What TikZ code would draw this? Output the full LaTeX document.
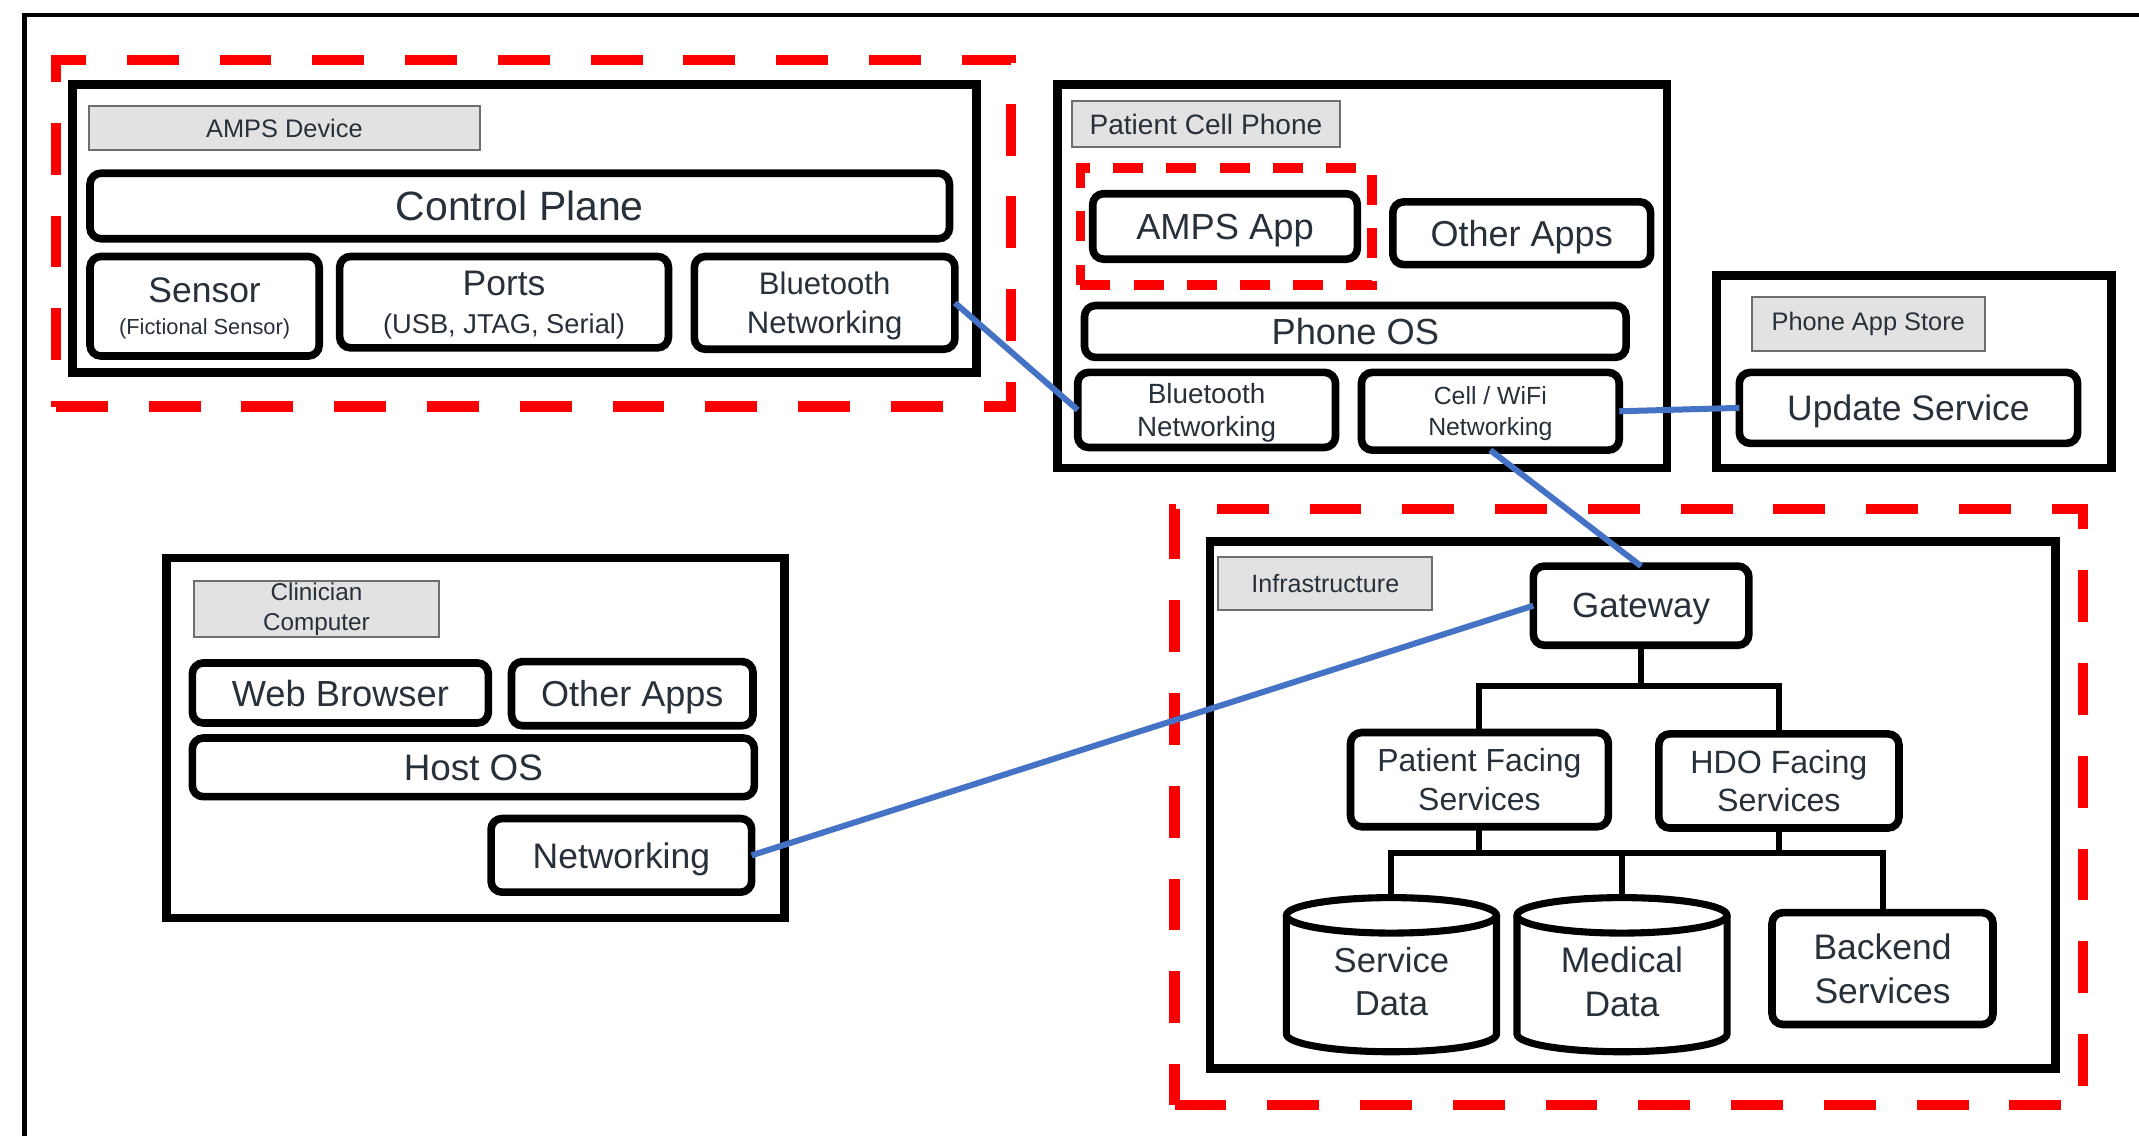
\documentclass[tikz,border=0pt]{standalone}
\usepackage{fontspec}
\setmainfont{Liberation Sans}
\definecolor{dashred}{RGB}{250,0,0}
\definecolor{linkblue}{RGB}{68,114,196}
\definecolor{lblfill}{RGB}{226,226,226}
\definecolor{lbldraw}{RGB}{110,110,110}
\definecolor{txtc}{RGB}{40,48,58}
\newcommand\fsz[2]{\fontsize{#1pt}{#2pt}\selectfont}
\newcommand\bx[7]{\node[#6,minimum width={(#4-#2)*0.5pt},minimum height={(#5-#3)*0.5pt}] (#1) at ({(#2+#4)/2},{(#3+#5)/2}) {#7};}
\begin{document}
\begin{tikzpicture}[x=0.5pt,y=-0.5pt,
  container/.style={draw=black,line width=3.2pt,inner sep=0pt,outer sep=0pt},
  grp/.style={draw=dashred,line width=3.8pt,dash pattern=on 19pt off 15pt,inner sep=0pt,outer sep=0pt},
  grpsmall/.style={draw=dashred,line width=3.6pt,dash pattern=on 11pt off 8.5pt,inner sep=0pt,outer sep=0pt},
  lbl/.style={draw=lbldraw,fill=lblfill,line width=0.7pt,inner sep=0pt,outer sep=0pt,text=txtc,align=center},
  comp/.style={draw=black,fill=white,line width=2.8pt,rounded corners=4pt,inner sep=0pt,outer sep=0pt,text=txtc,align=center},
  oneline/.style={text depth=0pt},
  cylnode/.style={inner sep=0pt,outer sep=0pt,text=txtc,align=center},
  cyl/.style={draw=black,line width=2.6pt},
  link/.style={draw=linkblue,line width=2.2pt},
  tree/.style={draw=black,line width=2.2pt},
  frame/.style={draw=black,line width=1.8pt}]
\useasboundingbox (0,0) rectangle (1568,833);
\draw[frame] (18,833) -- (18,11) -- (1568,11);

% AMPS device
\bx{ampsgrp}{41}{44}{741}{298}{grp}{}
\bx{ampsdev}{53}{62}{716}{273}{container}{}
\bx{ampslbl}{65}{78}{352}{110}{lbl,font=\fsz{9.3}{11}}{AMPS Device}
\bx{cp}{66}{127}{696}{175}{comp,oneline,font=\fsz{15}{18}}{Control Plane}
\bx{sensor}{66}{188}{234}{261}{comp,oneline,font=\fsz{13}{13}}{Sensor\\[-1.5pt]{\fsz{8}{10}(Fictional Sensor)}}
\bx{ports}{249}{188}{490}{255}{comp,oneline,font=\fsz{13}{14}}{Ports\\{\fsz{10}{12}(USB, JTAG, Serial)}}
\bx{abt}{509}{188}{700}{256}{comp,oneline,font=\fsz{11.4}{14.5}}{Bluetooth\\Networking}

% Patient cell phone
\bx{phone}{775}{62}{1222}{343}{container}{}
\bx{phonelbl}{786}{74}{982}{108}{lbl,font=\fsz{10.3}{12}}{Patient Cell Phone}
\bx{appgrp}{792}{123}{1006}{209}{grpsmall}{}
\bx{ampsapp}{801}{142}{995}{190}{comp,oneline,font=\fsz{13.3}{15}}{AMPS App}
\bx{otherapps}{1021}{148}{1210}{194}{comp,oneline,font=\fsz{13.2}{15}}{Other Apps}
\bx{phoneos}{795}{224}{1192}{262}{comp,oneline,font=\fsz{13.3}{15}}{Phone OS}
\bx{pbt}{790}{273}{979}{328}{comp,oneline,font=\fsz{10.2}{12}}{Bluetooth\\Networking}
\bx{cw}{998}{273}{1187}{330}{comp,oneline,font=\fsz{9.1}{11.5}}{Cell / WiFi\\Networking}

% Phone app store
\bx{store}{1258}{202}{1548}{343}{container}{}
\bx{storelbl}{1284}{218}{1455}{257}{lbl,font=\fsz{9.3}{11}}{Phone App Store}
\bx{upd}{1275}{273}{1523}{325}{comp,oneline,font=\fsz{13}{15}}{Update Service}

% Clinician computer
\bx{clin}{122}{409}{575}{673}{container}{}
\bx{clinlbl}{142}{426}{322}{467}{lbl,font=\fsz{8.9}{11}}{Clinician\\Computer}
\bx{web}{141}{486}{358}{530}{comp,oneline,font=\fsz{13.3}{15}}{Web Browser}
\bx{cother}{375}{485}{552}{532}{comp,oneline,font=\fsz{13.2}{15}}{Other Apps}
\bx{host}{141}{541}{553}{584}{comp,oneline,font=\fsz{13.5}{15}}{Host OS}
\bx{net}{360}{600}{551}{654}{comp,oneline,font=\fsz{13}{15}}{Networking}

% Infrastructure
\bx{infragrp}{861}{373}{1527}{810}{grp}{}
\bx{infra}{887}{397}{1507}{783}{container}{}
\bx{infralbl}{893}{408}{1050}{447}{lbl,font=\fsz{9.2}{11}}{Infrastructure}
\bx{gw}{1124}{415}{1282}{473}{comp,oneline,font=\fsz{12.8}{15}}{Gateway}
\bx{pfs}{990}{537}{1179}{606}{comp,font=\fsz{11.7}{14}}{Patient Facing\\Services}
\bx{hdo}{1216}{538}{1392}{607}{comp,font=\fsz{11.8}{14}}{HDO Facing\\Services}
\bx{backend}{1299}{669}{1461}{751}{comp,font=\fsz{13}{16}}{Backend\\Services}

% cylinders
\draw[cyl] (943,671) -- (943,758) arc[start angle=180,end angle=360,x radius=38.5pt,y radius=6.5pt] -- (1097,671);
\draw[cyl] (1020,671) ellipse [x radius=38.5pt,y radius=6.5pt];
\draw[cyl] (1112,671) -- (1112,758) arc[start angle=180,end angle=360,x radius=38.5pt,y radius=6.5pt] -- (1266,671);
\draw[cyl] (1189,671) ellipse [x radius=38.5pt,y radius=6.5pt];
\bx{sd}{943}{658}{1097}{781}{cylnode,font=\fsz{12.7}{16}}{Service\\Data}
\bx{md}{1112}{658}{1266}{781}{cylnode,font=\fsz{13}{16}}{Medical\\Data}

% tree
\coordinate (b1) at (0,503);
\coordinate (b2) at (0,625);
\draw[tree] (gw.south) -- (gw.south |- b1);
\draw[tree] (pfs.north) |- (hdo.north |- b1) -- (hdo.north);
\draw[tree] (pfs.south) -- (pfs.south |- b2);
\draw[tree] (hdo.south) -- (hdo.south |- b2);
\draw[tree] (sd.north) |- (backend.north |- b2) -- (backend.north);
\draw[tree] (md.north) -- (md.north |- b2);

% links
\draw[link] (abt.east) -- (pbt.west);
\draw[link] (cw.east) -- (upd.west);
\draw[link] (cw.south) -- (gw.north);
\draw[link] (net.east) -- (gw.west);
\end{tikzpicture}
\end{document}
